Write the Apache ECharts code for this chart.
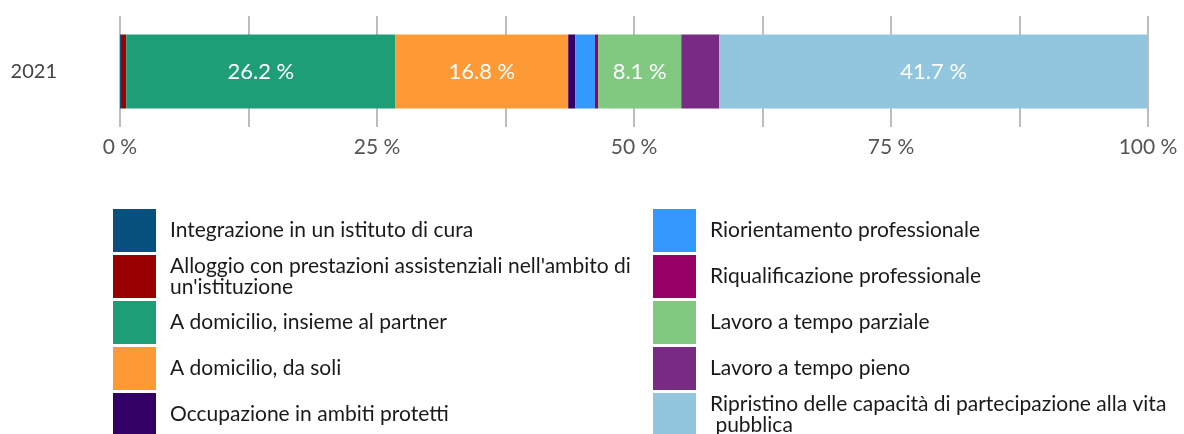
<!DOCTYPE html>
<html><head><meta charset="utf-8">
<script src="https://cdn.jsdelivr.net/npm/echarts@6/dist/echarts.min.js"></script>
<style>html,body{margin:0;padding:0;background:#fff}#c{width:1184px;height:434px}</style>
</head><body><div id="c"></div>
<script>
const categories = ['2021'];
const seriesNames = [
  'Integrazione in un istituto di cura',
  "Alloggio con prestazioni assistenziali nell'ambito di un'istituzione",
  'A domicilio, insieme al partner',
  'A domicilio, da soli',
  'Occupazione in ambiti protetti',
  'Riorientamento professionale',
  'Riqualificazione professionale',
  'Lavoro a tempo parziale',
  'Lavoro a tempo pieno',
  'Ripristino delle capacità di partecipazione alla vita pubblica'
];
const values = [0.1, 0.5, 26.2, 16.8, 0.7, 1.9, 0.3, 8.1, 3.7, 41.7];
const colors = ['#08507d', '#990000', '#1e9e77', '#fd9a35', '#330066', '#3399ff', '#990066', '#81c880', '#772b83', '#92c5de'];
const xTicks = [0, 25, 50, 75, 100];

const FONT = 'Lato';
const chart = echarts.init(document.getElementById('c'));
const legendCommon = {
  orient: 'vertical', itemWidth: 43, itemHeight: 43, itemGap: 3, padding: 0, height: 260,
  icon: 'rect', selectedMode: false,
  textStyle: { fontFamily: FONT, fontSize: 21, color: '#1a1a1a', width: 470, overflow: 'break', lineHeight: 21, padding: [0, 0, 0, 9] }
};
chart.setOption({
  animation: false,
  grid: { left: 120, right: 36, top: 16, bottom: 307 },
  legend: [
    Object.assign({ left: 113, top: 209, data: seriesNames.slice(0, 5) }, legendCommon),
    Object.assign({ left: 653, top: 209, data: seriesNames.slice(5) }, legendCommon)
  ],
  xAxis: {
    type: 'value', min: 0, max: 100, interval: 12.5,
    axisLine: { show: false }, axisTick: { show: false },
    splitLine: { lineStyle: { color: '#bdbdbd', width: 2 } },
    axisLabel: {
      fontFamily: FONT, fontSize: 21, color: '#555', margin: 10,
      formatter: v => xTicks.indexOf(v) >= 0 ? v + ' %' : ''
    }
  },
  yAxis: [
    {
      type: 'category', data: categories,
      axisLine: { show: false },
      axisTick: { alignWithLabel: true, length: 50, lineStyle: { color: '#bdbdbd', width: 2 } },
      axisLabel: { fontFamily: FONT, fontSize: 20, color: '#444', margin: 63 }
    },
    {
      type: 'category', data: categories, position: 'right',
      axisLine: { show: false },
      axisTick: { alignWithLabel: true, length: 36, lineStyle: { color: '#bdbdbd', width: 2 } },
      axisLabel: { show: false }
    }
  ],
  series: seriesNames.map((n, i) => ({
    name: n, type: 'bar', stack: 'total', barWidth: 74,
    itemStyle: { color: colors[i] },
    label: {
      show: true, position: 'inside', color: '#fff', fontFamily: FONT, fontSize: 22,
      formatter: p => p.value >= 5 ? p.value.toFixed(1) + ' %' : ''
    },
    data: [values[i]]
  }))
});
</script></body></html>
